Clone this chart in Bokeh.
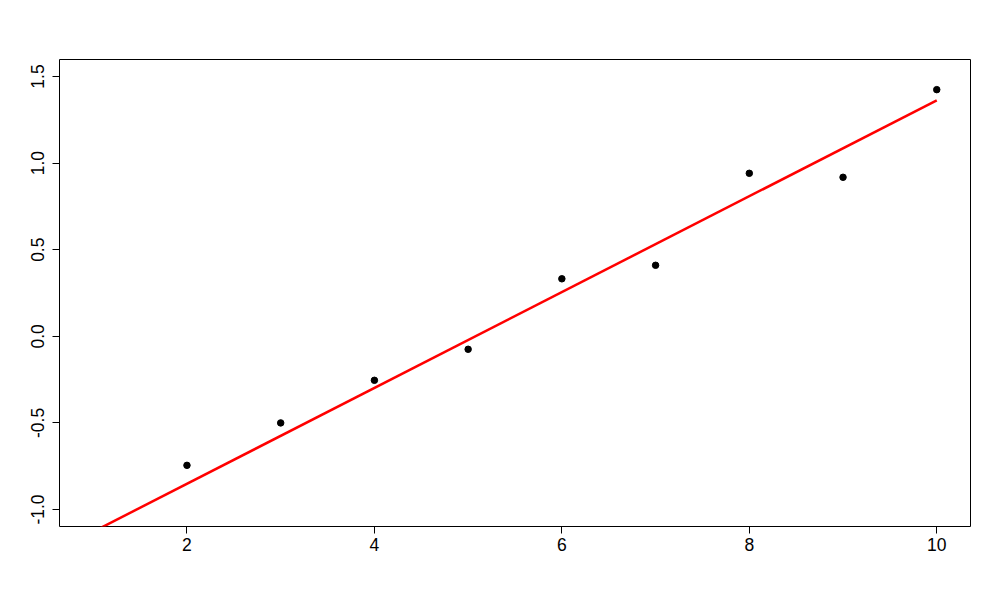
from bokeh.plotting import figure
from bokeh.models import FixedTicker, Range1d
from bokeh.embed import file_html
from bokeh.resources import INLINE

# data
x_vals = [2, 3, 4, 5, 6, 7, 8, 9, 10]
y_vals = [-0.745, -0.50, -0.254, -0.075, 0.332, 0.41, 0.941, 0.918, 1.424]
fit_x = [1, 10]
fit_y = [-1.128, 1.362]
x_ticks = [2, 4, 6, 8, 10]
y_ticks = [-1.0, -0.5, 0.0, 0.5, 1.0, 1.5]
y_tick_labels = ["-1.0", "-0.5", "0.0", "0.5", "1.0", "1.5"]

p = figure(width=992, height=592, output_backend="svg", toolbar_location=None,
           x_range=Range1d(0.64, 10.36), y_range=Range1d(-1.098, 1.598),
           frame_width=911, frame_height=467,
           min_border_left=59, min_border_right=22, min_border_top=59, min_border_bottom=66)
p.background_fill_color = "white"
p.border_fill_color = "white"
p.outline_line_color = "black"
p.outline_line_width = 1
p.xgrid.visible = False
p.ygrid.visible = False

p.line(fit_x, fit_y, line_color="#ff0000", line_width=2.5)
p.scatter(x_vals, y_vals, size=6.5, color="black")

font = "Liberation Sans"
for ax in (p.xaxis[0], p.yaxis[0]):
    ax.axis_line_color = None
    ax.major_tick_out = 7
    ax.major_tick_in = 0
    ax.minor_tick_out = 0
    ax.minor_tick_in = 0
    ax.major_tick_line_color = "black"
    ax.major_label_text_font = font
    ax.major_label_text_font_size = "17.5px"
    ax.major_label_text_color = "black"

p.xaxis[0].ticker = FixedTicker(ticks=x_ticks)
p.xaxis[0].major_label_standoff = 4
p.yaxis[0].ticker = FixedTicker(ticks=y_ticks)
p.yaxis[0].major_label_overrides = {t: l for t, l in zip(y_ticks, y_tick_labels)}
p.yaxis[0].major_label_orientation = "vertical"
p.yaxis[0].major_label_standoff = 8

open("out.html", "w").write(file_html(p, INLINE))
